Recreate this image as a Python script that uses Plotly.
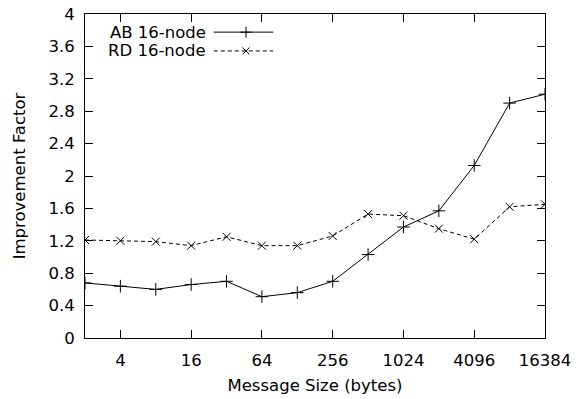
import plotly.graph_objects as go

msg_sizes = [2, 4, 8, 16, 32, 64, 128, 256, 512, 1024, 2048, 4096, 8192, 16384]
ab_16node = [0.68, 0.64, 0.60, 0.66, 0.70, 0.51, 0.56, 0.70, 1.03, 1.37, 1.57, 2.13, 2.90, 3.01]
rd_16node = [1.21, 1.20, 1.19, 1.14, 1.25, 1.14, 1.14, 1.26, 1.53, 1.51, 1.35, 1.22, 1.62, 1.65]
x_ticks = [4, 16, 64, 256, 1024, 4096, 16384]
y_ticks = [0, 0.4, 0.8, 1.2, 1.6, 2, 2.4, 2.8, 3.2, 3.6, 4]
y_labels = ["0", "0.4", "0.8", "1.2", "1.6", "2", "2.4", "2.8", "3.2", "3.6", "4"]
series_names = ["AB 16-node", "RD 16-node"]

FONT = "DejaVu Sans, Liberation Sans, Arial, sans-serif"
FS = 16.5
DASH = "4px,3px"

fig = go.Figure()
fig.add_trace(go.Scatter(
    x=msg_sizes, y=ab_16node, mode="lines+markers", name=series_names[0],
    line=dict(color="black", width=1),
    marker=dict(symbol="cross-thin", size=9, line=dict(color="black", width=1)),
    showlegend=False))
fig.add_trace(go.Scatter(
    x=msg_sizes, y=rd_16node, mode="lines+markers", name=series_names[1],
    line=dict(color="black", width=1, dash=DASH),
    marker=dict(symbol="x-thin", size=8, line=dict(color="black", width=1)),
    showlegend=False))

# custom gnuplot-style legend (text, then sample) on an auxiliary unit axis
leg_y = [0.944, 0.886]
leg_x = [0.28, 0.409]
leg_mx = 0.35
syms = [("cross-thin", 8, "solid"), ("x-thin", 7, DASH)]
for yy, (sym, sz, dsh) in zip(leg_y, syms):
    fig.add_trace(go.Scatter(x=leg_x, y=[yy, yy], mode="lines",
                             line=dict(color="black", width=1, dash=dsh),
                             xaxis="x2", yaxis="y2", showlegend=False, hoverinfo="skip"))
    fig.add_trace(go.Scatter(x=[leg_mx], y=[yy], mode="markers",
                             marker=dict(symbol=sym, size=sz, line=dict(color="black", width=1)),
                             xaxis="x2", yaxis="y2", showlegend=False, hoverinfo="skip"))
for name, yy in zip(series_names, leg_y):
    fig.add_annotation(x=0.267, y=yy, xref="paper", yref="paper", text=name,
                       showarrow=False, xanchor="right", yanchor="middle",
                       font=dict(family=FONT, size=FS, color="black"))

fig.update_layout(
    width=578, height=399,
    margin=dict(l=85, r=33, t=14, b=61),
    paper_bgcolor="white", plot_bgcolor="white",
    font=dict(family=FONT, size=FS, color="black"),
    xaxis=dict(type="log", range=[0.30103, 4.21442], tickvals=x_ticks,
               ticktext=[str(v) for v in x_ticks], automargin=False,
               ticks="inside", ticklen=8, tickwidth=1, tickcolor="black",
               ticklabelstandoff=7,
               showline=True, linecolor="black", linewidth=1, mirror="ticks",
               showgrid=False, zeroline=False,
               title=dict(text="Message Size (bytes)", standoff=10,
                          font=dict(family=FONT, size=FS))),
    yaxis=dict(range=[0, 4], tickvals=y_ticks, ticktext=y_labels, automargin=False,
               ticks="inside", ticklen=8, tickwidth=1, tickcolor="black",
               ticklabelstandoff=6,
               showline=True, linecolor="black", linewidth=1, mirror="ticks",
               showgrid=False, zeroline=False,
               title=dict(text="Improvement Factor", standoff=18,
                          font=dict(family=FONT, size=FS))),
    xaxis2=dict(overlaying="x", range=[0, 1], visible=False),
    yaxis2=dict(overlaying="y", range=[0, 1], visible=False),
)

fig.write_html("out.html")
